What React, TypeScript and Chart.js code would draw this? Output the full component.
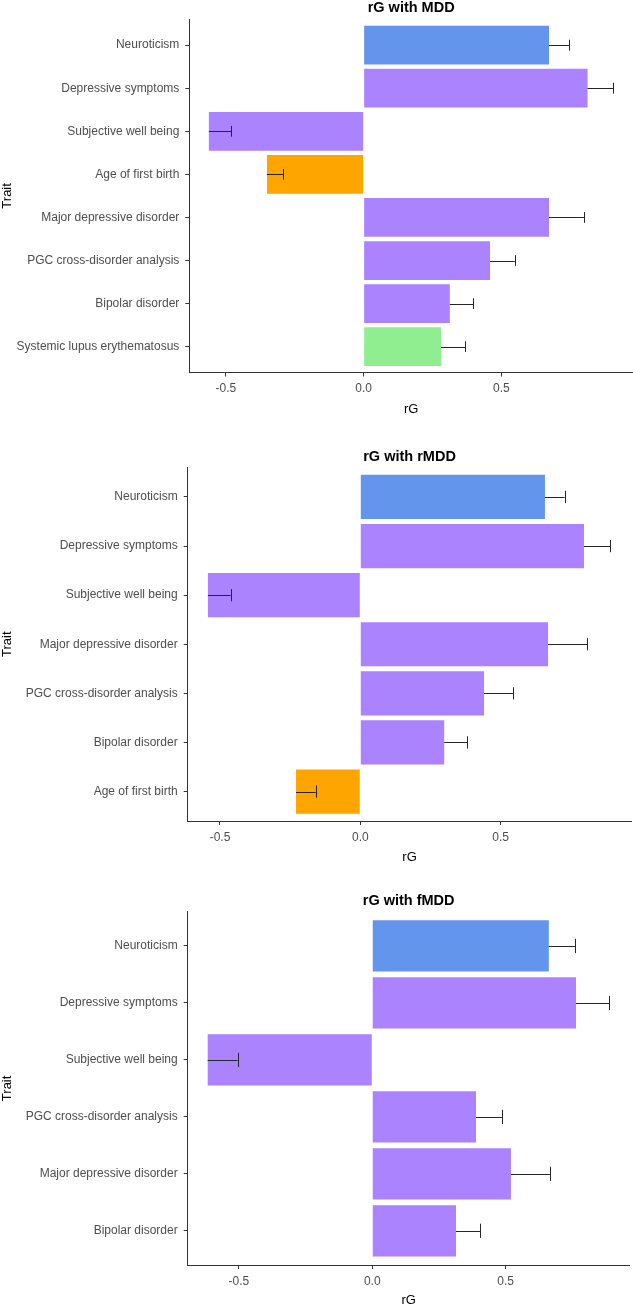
import React, { useEffect, useRef } from "react";
import { Chart, registerables } from "chart.js";

Chart.register(...registerables);

// ---------- Data ----------
const MDD_TRAITS = [
  "Neuroticism",
  "Depressive symptoms",
  "Subjective well being",
  "Age of first birth",
  "Major depressive disorder",
  "PGC cross-disorder analysis",
  "Bipolar disorder",
  "Systemic lupus erythematosus",
];
const MDD_RG = [0.673, 0.813, -0.562, -0.351, 0.673, 0.459, 0.313, 0.281];
const MDD_SE = [0.074, 0.093, 0.08, 0.058, 0.127, 0.09, 0.084, 0.087];
const MDD_GROUP = ["personality", "psychiatric", "psychiatric", "reproductive", "psychiatric", "psychiatric", "psychiatric", "autoimmune"];

const RMDD_TRAITS = [
  "Neuroticism",
  "Depressive symptoms",
  "Subjective well being",
  "Major depressive disorder",
  "PGC cross-disorder analysis",
  "Bipolar disorder",
  "Age of first birth",
];
const RMDD_RG = [0.658, 0.797, -0.543, 0.669, 0.441, 0.299, -0.229];
const RMDD_SE = [0.07, 0.094, 0.081, 0.14, 0.103, 0.082, 0.07];
const RMDD_GROUP = ["personality", "psychiatric", "psychiatric", "psychiatric", "psychiatric", "psychiatric", "reproductive"];

const FMDD_TRAITS = [
  "Neuroticism",
  "Depressive symptoms",
  "Subjective well being",
  "PGC cross-disorder analysis",
  "Major depressive disorder",
  "Bipolar disorder",
];
const FMDD_RG = [0.662, 0.764, -0.617, 0.389, 0.52, 0.314];
const FMDD_SE = [0.098, 0.124, 0.112, 0.097, 0.146, 0.09];
const FMDD_GROUP = ["personality", "psychiatric", "psychiatric", "psychiatric", "psychiatric", "psychiatric"];

const X_TICKS = [-0.5, 0, 0.5];

// ---------- Styles ----------
const GROUP_COLORS: Record<string, string> = {
  personality: "#6495ED",
  psychiatric: "#AB82FF",
  reproductive: "#FFA500",
  autoimmune: "#90EE90",
};
const FONT = "Arial, 'Liberation Sans', sans-serif";
const AXIS_COLOR = "#333333";
const TICK_TEXT = "#4D4D4D";

type Layout = {
  top: number;
  height: number;
  areaTop: number;
  areaBottom: number;
  areaLeft: number;
  areaRight: number;
  xMin: number;
  xMax: number;
};

const LAYOUTS: Layout[] = [
  { top: 0, height: 417, areaTop: 19.3, areaBottom: 372.5, areaLeft: 189.3, areaRight: 633, xMin: -0.633, xMax: 0.978 },
  { top: 440, height: 425, areaTop: 467.5, areaBottom: 821, areaLeft: 187.7, areaRight: 631.4, xMin: -0.615, xMax: 0.966 },
  { top: 880, height: 428, areaTop: 911.8, areaBottom: 1265, areaLeft: 187.7, areaRight: 629.6, xMin: -0.692, xMax: 0.965 },
];

type PanelProps = {
  title: string;
  traits: string[];
  rg: number[];
  se: number[];
  groups: string[];
  layout: Layout;
};

function Panel({ title, traits, rg, se, groups, layout }: PanelProps) {
  const ref = useRef<HTMLCanvasElement | null>(null);

  useEffect(() => {
    if (!ref.current) return;
    const n = traits.length;
    const W = 633;
    const H = layout.height;

    const errorBars = {
      id: "errorBars",
      afterDatasetsDraw(chart: any) {
        const xs = chart.scales.x;
        const ys = chart.scales.y;
        const ctx = chart.ctx;
        ctx.save();
        ctx.strokeStyle = "#262626";
        ctx.lineWidth = 1;
        rg.forEach((v, i) => {
          const y = ys.getPixelForValue(i);
          const half = Math.abs(ys.getPixelForValue(i + 0.125) - y);
          const x0 = xs.getPixelForValue(v);
          const x1 = xs.getPixelForValue(v + se[i]);
          ctx.beginPath();
          ctx.moveTo(x0, Math.round(y) + 0.5);
          ctx.lineTo(x1, Math.round(y) + 0.5);
          ctx.moveTo(Math.round(x1) + 0.5, y - half);
          ctx.lineTo(Math.round(x1) + 0.5, y + half);
          ctx.stroke();
        });
        ctx.restore();
      },
    };

    const panelTitle = {
      id: "panelTitle",
      afterDraw(chart: any) {
        const { ctx, chartArea } = chart;
        ctx.save();
        ctx.font = `bold 14.5px ${FONT}`;
        ctx.fillStyle = "#000";
        ctx.textAlign = "center";
        ctx.textBaseline = "middle";
        ctx.fillText(title, (chartArea.left + chartArea.right) / 2, chartArea.top - 11);
        ctx.restore();
      },
    };

    const chart = new Chart(ref.current, {
      type: "bar",
      data: {
        datasets: [
          {
            data: rg.map((v, i) => ({ x: v, y: i })),
            backgroundColor: groups.map((g) => GROUP_COLORS[g]),
            borderWidth: 0,
            barPercentage: 0.9,
            categoryPercentage: 1,
          },
        ],
      },
      options: {
        indexAxis: "y",
        responsive: false,
        animation: false,
        layout: {
          padding: {
            top: layout.areaTop - layout.top,
            right: W - layout.areaRight,
            left: 0,
            bottom: 0,
          },
        },
        plugins: {
          legend: { display: false },
          tooltip: { enabled: false },
          title: { display: false },
        },
        scales: {
          x: {
            type: "linear",
            min: layout.xMin,
            max: layout.xMax,
            bounds: "data",
            offset: false,
            afterBuildTicks: (s: any) => {
              s.ticks = X_TICKS.map((v) => ({ value: v }));
            },
            afterFit: (s: any) => {
              s.height = H - (layout.areaBottom - layout.top);
            },
            ticks: {
              callback: (v: any) => Number(v).toFixed(1),
              font: { family: FONT, size: 12 },
              color: TICK_TEXT,
              padding: 5,
              maxRotation: 0,
              autoSkip: false,
            },
            grid: {
              offset: false,
              drawOnChartArea: false,
              drawTicks: true,
              tickLength: 4,
              color: AXIS_COLOR,
              lineWidth: 1,
            },
            border: { display: true, color: AXIS_COLOR, width: 1 },
            title: {
              display: true,
              text: "rG",
              font: { family: FONT, size: 13 },
              color: "#000",
              padding: 0,
            },
          },
          y: {
            type: "linear",
            reverse: true,
            min: -0.6,
            max: n - 0.4,
            bounds: "data",
            offset: false,
            afterBuildTicks: (s: any) => {
              s.ticks = traits.map((_, i) => ({ value: i }));
            },
            afterFit: (s: any) => {
              s.width = layout.areaLeft;
            },
            ticks: {
              callback: (v: any) => traits[Number(v)],
              font: { family: FONT, size: 12 },
              color: TICK_TEXT,
              padding: 6,
              autoSkip: false,
            },
            grid: {
              offset: false,
              drawOnChartArea: false,
              drawTicks: true,
              tickLength: 4,
              color: AXIS_COLOR,
              lineWidth: 1,
            },
            border: { display: true, color: AXIS_COLOR, width: 1 },
            title: {
              display: true,
              text: "Trait",
              font: { family: FONT, size: 13 },
              color: "#000",
              padding: 0,
            },
          },
        },
      } as any,
      plugins: [errorBars, panelTitle],
    });
    return () => chart.destroy();
  }, []);

  return (
    <canvas
      ref={ref}
      width={633}
      height={layout.height}
      style={{ position: "absolute", left: 0, top: layout.top, width: 633, height: layout.height }}
    />
  );
}

export default function App() {
  return (
    <div style={{ position: "absolute", left: 0, top: 0, width: 633, height: 1308, background: "#fff" }}>
      <Panel title="rG with MDD" traits={MDD_TRAITS} rg={MDD_RG} se={MDD_SE} groups={MDD_GROUP} layout={LAYOUTS[0]} />
      <Panel title="rG with rMDD" traits={RMDD_TRAITS} rg={RMDD_RG} se={RMDD_SE} groups={RMDD_GROUP} layout={LAYOUTS[1]} />
      <Panel title="rG with fMDD" traits={FMDD_TRAITS} rg={FMDD_RG} se={FMDD_SE} groups={FMDD_GROUP} layout={LAYOUTS[2]} />
    </div>
  );
}
